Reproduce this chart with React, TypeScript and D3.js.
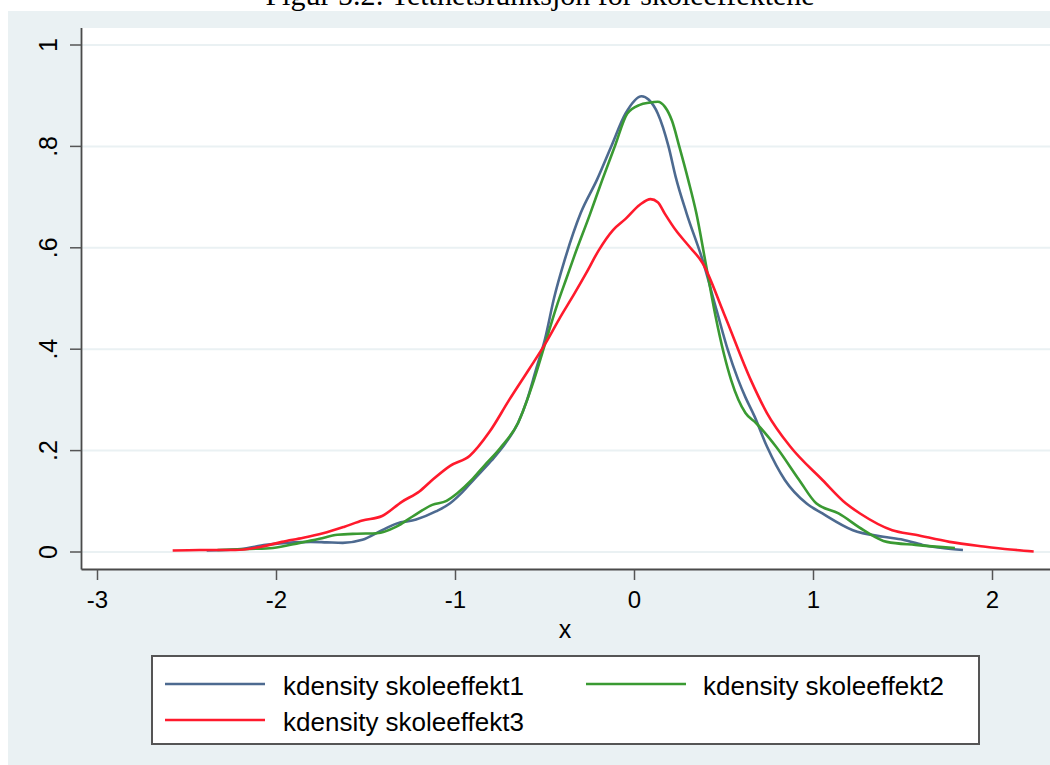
import React from "react";
import * as d3 from "d3";

const xTicks = [-3, -2, -1, 0, 1, 2];
const yTicks = [0, 0.2, 0.4, 0.6, 0.8, 1];
const yTickLabels = ["0", ".2", ".4", ".6", ".8", "1"];

const skoleeffekt1: [number, number][] = [
  [-2.39, 0.003], [-2.2, 0.006], [-2.06, 0.014], [-1.9, 0.019], [-1.81, 0.02], [-1.72, 0.019],
  [-1.63, 0.018], [-1.52, 0.024], [-1.41, 0.043], [-1.33, 0.056], [-1.22, 0.064], [-1.11, 0.08],
  [-1.03, 0.096], [-0.97, 0.115], [-0.9, 0.142], [-0.8, 0.18], [-0.72, 0.215], [-0.65, 0.255],
  [-0.6, 0.3], [-0.55, 0.36], [-0.5, 0.42], [-0.45, 0.5], [-0.39, 0.576], [-0.3, 0.669], [-0.21, 0.734],
  [-0.13, 0.8], [-0.05, 0.865], [0.04, 0.899], [0.08, 0.892], [0.13, 0.865], [0.19, 0.8],
  [0.23, 0.74], [0.29, 0.669], [0.38, 0.576], [0.46, 0.475], [0.52, 0.4], [0.58, 0.339],
  [0.62, 0.305], [0.67, 0.268], [0.74, 0.208], [0.84, 0.142], [0.96, 0.096], [1.05, 0.076], [1.22, 0.043],
  [1.39, 0.03], [1.5, 0.024], [1.61, 0.014], [1.72, 0.008], [1.835, 0.004],
];

const skoleeffekt2: [number, number][] = [
  [-2.33, 0.004], [-2.15, 0.006], [-2.02, 0.008], [-1.87, 0.018], [-1.76, 0.026], [-1.66, 0.034],
  [-1.55, 0.036], [-1.44, 0.037], [-1.33, 0.05], [-1.24, 0.07], [-1.13, 0.093], [-1.05, 0.101],
  [-0.99, 0.116], [-0.91, 0.142], [-0.84, 0.17], [-0.75, 0.205], [-0.65, 0.255], [-0.57, 0.33],
  [-0.5, 0.41], [-0.43, 0.49], [-0.38, 0.54], [-0.335, 0.585], [-0.25, 0.665], [-0.18, 0.734], [-0.11, 0.8],
  [-0.04, 0.865], [0.03, 0.882], [0.08, 0.886], [0.13, 0.888], [0.17, 0.878], [0.21, 0.85], [0.25, 0.8],
  [0.3, 0.734], [0.345, 0.669], [0.4, 0.565], [0.45, 0.47], [0.5, 0.39], [0.54, 0.339],
  [0.62, 0.274], [0.68, 0.254], [0.79, 0.208], [0.92, 0.142], [1.015, 0.096], [1.14, 0.076],
  [1.28, 0.043], [1.41, 0.02], [1.57, 0.014], [1.79, 0.008],
];

const skoleeffekt3: [number, number][] = [
  [-2.58, 0.003], [-2.43, 0.004], [-2.23, 0.004], [-2.09, 0.01], [-1.97, 0.02], [-1.85, 0.028],
  [-1.74, 0.037], [-1.62, 0.05], [-1.52, 0.062], [-1.41, 0.071], [-1.3, 0.099], [-1.2, 0.12],
  [-1.13, 0.142], [-1.03, 0.17], [-0.92, 0.19], [-0.81, 0.237], [-0.7, 0.3], [-0.59, 0.36],
  [-0.5, 0.41], [-0.42, 0.46], [-0.335, 0.51], [-0.27, 0.55], [-0.2, 0.595], [-0.12, 0.635],
  [-0.05, 0.657], [0.03, 0.685], [0.09, 0.696], [0.13, 0.69], [0.17, 0.667], [0.23, 0.635],
  [0.3, 0.605], [0.38, 0.57], [0.5, 0.47], [0.65, 0.339], [0.74, 0.274], [0.87, 0.208],
  [1.05, 0.142], [1.18, 0.096], [1.26, 0.076], [1.44, 0.043], [1.57, 0.034], [1.76, 0.02],
  [1.95, 0.011], [2.1, 0.005], [2.23, 0.001],
];

const seriesNames = ["kdensity skoleeffekt1", "kdensity skoleeffekt2", "kdensity skoleeffekt3"];
const seriesColors = ["#4d6a90", "#3a9a32", "#ff1a2c"];

export default function App() {
  const W = 1050, H = 765;
  const bg = "#eaf1f3";
  const x = d3.scaleLinear().domain([-3, 2]).range([97.5, 992.5]);
  const y = d3.scaleLinear().domain([0, 1]).range([552, 45]);
  const line = d3
    .line<[number, number]>()
    .x((d) => x(d[0]))
    .y((d) => y(d[1]))
    .curve(d3.curveMonotoneX);
  const data = [skoleeffekt1, skoleeffekt2, skoleeffekt3];
  const font = "'Liberation Sans', Arial, Helvetica, sans-serif";
  const plotL = 81.5, plotT = 28, plotB = 569.5, plotR = 1050;

  const legendItems = [
    { i: 0, lx: 165, tx: 283, ly: 684, ty: 695 },
    { i: 1, lx: 586, tx: 703, ly: 684, ty: 695 },
    { i: 2, lx: 165, tx: 283, ly: 720, ty: 731 },
  ];

  return (
    <svg
      width={W}
      height={H}
      style={{ position: "absolute", left: 0, top: 0, display: "block" }}
    >
      <rect x={0} y={0} width={W} height={H} fill="#ffffff" />
      <text
        x={540}
        y={5}
        textAnchor="middle"
        fontFamily="'Liberation Serif', 'DejaVu Serif', serif"
        fontSize={30}
        fill="#000"
      >
        Figur 5.2: Tetthetsfunksjon for skoleeffektene
      </text>
      <rect x={8} y={11} width={W - 8} height={H - 11} fill={bg} />
      <rect x={plotL} y={plotT} width={plotR - plotL} height={plotB - plotT} fill="#ffffff" />
      {yTicks.map((t) => (
        <line key={"g" + t} x1={plotL} x2={plotR} y1={y(t)} y2={y(t)} stroke={bg} strokeWidth={2} />
      ))}
      {data.map((d, i) => (
        <path key={i} d={line(d) || ""} fill="none" stroke={seriesColors[i]} strokeWidth={2.6} strokeLinejoin="round" />
      ))}
      <line x1={plotL} x2={plotL} y1={plotT} y2={plotB} stroke="#4a4a4a" strokeWidth={1.8} />
      <line x1={plotL} x2={plotR} y1={plotB} y2={plotB} stroke="#4a4a4a" strokeWidth={1.8} />
      {yTicks.map((t, i) => (
        <g key={"y" + t}>
          <line x1={70} x2={plotL} y1={y(t)} y2={y(t)} stroke="#555" strokeWidth={1.5} />
          <text
            transform={`translate(57,${y(t)}) rotate(-90)`}
            textAnchor="middle"
            fontFamily={font}
            fontSize={25}
            fill="#000"
          >
            {yTickLabels[i]}
          </text>
        </g>
      ))}
      {xTicks.map((t) => (
        <g key={"x" + t}>
          <line x1={x(t)} x2={x(t)} y1={plotB} y2={580} stroke="#555" strokeWidth={1.5} />
          <text x={x(t)} y={608} textAnchor="middle" fontFamily={font} fontSize={24} fill="#000">
            {t < 0 ? "-" + Math.abs(t) : String(t)}
          </text>
        </g>
      ))}
      <text x={565} y={638} textAnchor="middle" fontFamily={font} fontSize={25} fill="#000">
        x
      </text>
      <rect x={152} y={656} width={827} height={88} fill="#ffffff" stroke="#555" strokeWidth={2} />
      {legendItems.map((it) => (
        <g key={"l" + it.i}>
          <line x1={it.lx} x2={it.lx + 100} y1={it.ly} y2={it.ly} stroke={seriesColors[it.i]} strokeWidth={2.6} />
          <text x={it.tx} y={it.ty} fontFamily={font} fontSize={26} fill="#000">
            {seriesNames[it.i]}
          </text>
        </g>
      ))}
    </svg>
  );
}
